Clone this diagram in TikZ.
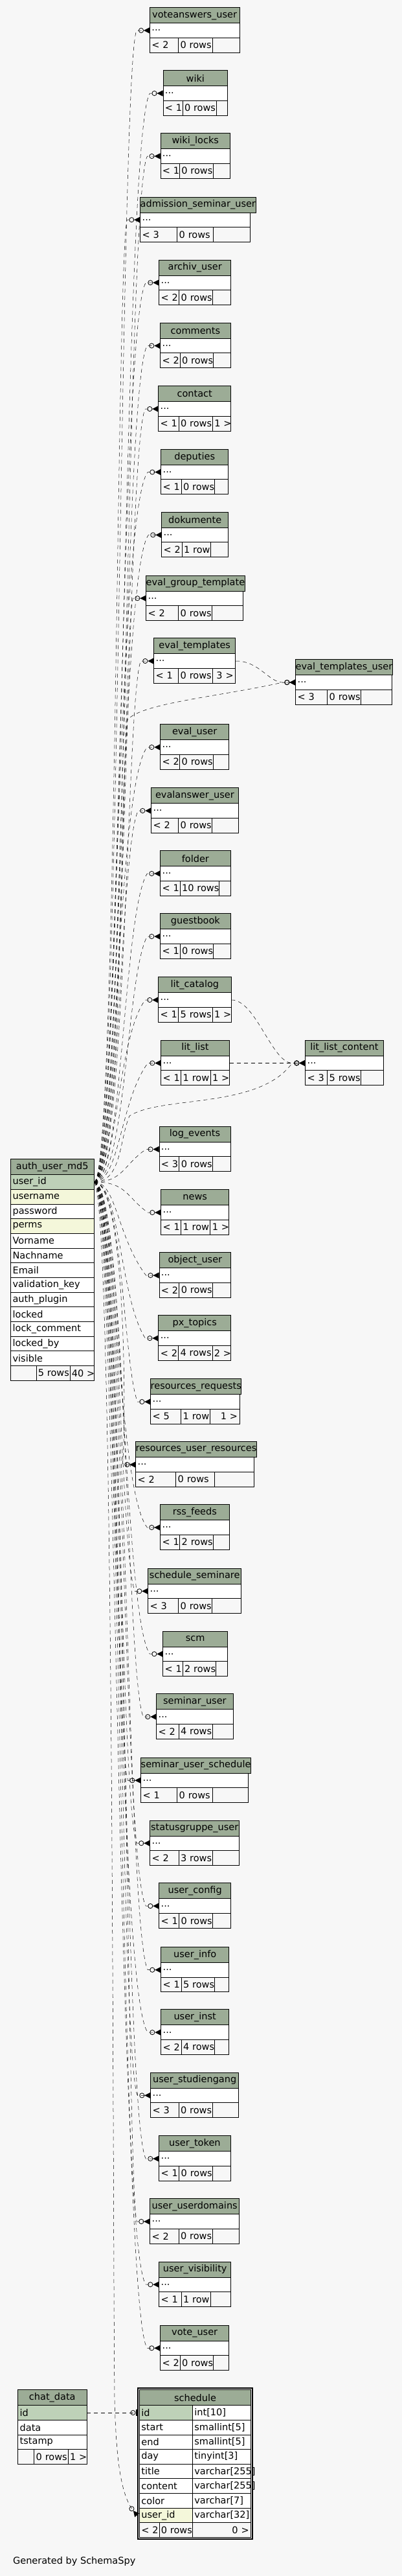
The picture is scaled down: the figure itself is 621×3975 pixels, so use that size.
\documentclass[tikz,border=0pt]{standalone}
\usepackage{fontspec}
\setmainfont{DejaVu Sans}
\usetikzlibrary{arrows.meta,fit}
\definecolor{paper}{HTML}{F7F7F7}
\definecolor{headgreen}{HTML}{9CAC96}
\definecolor{keygreen}{HTML}{BED1B8}
\definecolor{indexyellow}{HTML}{F4F7DA}
\tikzset{
  headbox/.style={draw=black,fill=headgreen,line width=.8pt,minimum height=24pt,inner sep=0pt,anchor=north west},
  colbox/.style={draw=black,fill=white,line width=.8pt,minimum height=22.6pt,inner xsep=3pt,inner ysep=0pt,align=left,anchor=north west},
  footbox/.style={colbox,fill=paper},
  rightfoot/.style={footbox,align=right},
  relation/.style={line width=.5pt,dash pattern=on 6pt off 5pt,
    -{Circle[open,length=8pt,width=8pt,line width=.8pt]Triangle[reversed,length=9pt,width=9pt]}},
  onerelation/.style={line width=.5pt,dash pattern=on 6pt off 5pt,
    -{Circle[open,length=8pt,width=8pt,line width=.8pt]Bar[width=10pt,line width=2.2pt]}},
}

\begin{document}
\begin{tikzpicture}[x=1pt,y=-1pt,font=\fontsize{14.5}{17}\selectfont]
\fill[paper] (0,0) rectangle (621,3975);
\useasboundingbox (0,0) rectangle (621,3975);

% auth_user_md5
\node[headbox,minimum width=128.3pt] (auth) at (16.2,1788.3) {auth\_user\_md5};
\foreach \col/\fillc [count=\i] in {user\_id/keygreen,username/indexyellow,password/white,perms/indexyellow,Vorname/white,Nachname/white,Email/white,validation\_key/white,auth\_plugin/white,locked/white,lock\_comment/white,locked\_by/white,visible/white}
  \node[colbox,fill=\fillc,text width=122.3pt] (auth-\i) at (16.2,{1812.3+(\i-1)*22.67}) {\col};
\node[footbox,text width=33.3pt] (auth-fa) at (16.2,2107) {};
\node[footbox,text width=46pt] (auth-fb) at (55.5,2107) {\mbox{5 rows}};
\node[rightfoot,text width=31pt] (auth-fc) at (107.5,2107) {\mbox{40 >}};

% referencing tables
\foreach \id/\tname/\lx/\rx/\ty/\da/\db/\fa/\fb/\fc/\edgeon [count=\k] in {
  voteanswers-user/voteanswers\_user/231/369.5/11.3/275.2/327.5/< 2/0 rows/{}/1,
  wiki/wiki/251.5/351.3/108.3/281.6/333.5/< 1/0 rows/{}/1,
  wiki-locks/wiki\_locks/247.5/355.2/205.3/277/329/< 1/0 rows/{}/1,
  admission-seminar-user/admission\_seminar\_user/216.3/385.7/303.5/273.3/329.3/< 3/0 rows/{}/1,
  archiv-user/archiv\_user/245.3/356.3/400.5/276.3/328.3/< 2/0 rows/{}/1,
  comments/comments/247.3/355.7/497.8/277.7/329.3/< 2/0 rows/{}/1,
  contact/contact/244.3/356.3/595.3/275.7/328/< 1/0 rows/1 >/1,
  deputies/deputies/248.3/352.3/692.8/279.7/331.3/< 1/0 rows/{}/1,
  dokumente/dokumente/249.3/352.3/789.8/280.7/325.3/< 2/1 row/{}/1,
  eval-group-template/eval\_group\_template/225.3/375.3/887.5/275.3/327.3/< 2/0 rows/{}/1,
  eval-templates/eval\_templates/237.3/363.3/984.3/275.3/327.7/< 1/0 rows/3 >/1,
  eval-user/eval\_user/247.3/353.3/1117.3/277.3/329.3/< 2/0 rows/{}/1,
  evalanswer-user/evalanswer\_user/233.3/367.7/1215.3/275.3/327.3/< 2/0 rows/{}/1,
  folder/folder/247.3/355.7/1312.3/277.7/337.7/< 1/10 rows/{}/1,
  guestbook/guestbook/247.3/355.7/1409.3/277.7/329.3/< 1/0 rows/{}/1,
  lit-catalog/lit\_catalog/244.3/356.7/1507.3/275.3/327.7/< 1/5 rows/1 >/1,
  lit-list/lit\_list/248.3/353.7/1604.7/279.3/324.7/< 1/1 row/1 >/1,
  log-events/log\_events/245.5/355.6/1737.7/276.4/328.3/< 3/0 rows/{}/1,
  news/news/248.3/353.3/1835.3/279.2/324.4/< 1/1 row/1 >/1,
  object-user/object\_user/245.5/356.4/1932.3/276.4/328.3/< 2/0 rows/{}/1,
  px-topics/px\_topics/244.4/356.4/2029.3/275.2/327.5/< 2/4 rows/2 >/1,
  resources-requests/resources\_requests/232.3/369.7/2127.3/279.3/324.3/< 5/1 row/1 >/1,
  resources-user-resources/resources\_user\_resources/209.3/391.7/2224.3/271.3/331.3/< 2/0 rows/{}/1,
  rss-feeds/rss\_feeds/247.3/353.7/2321.3/277.3/329.3/< 1/2 rows/{}/1,
  schedule-seminare/schedule\_seminare/228.3/372.3/2419.6/275.3/327.3/< 3/0 rows/{}/1,
  scm/scm/251.3/351.3/2516.5/281.7/333/< 1/2 rows/{}/1,
  seminar-user/seminar\_user/241.3/359.7/2613.4/275.7/327.7/< 2/4 rows/{}/1,
  seminar-user-schedule/seminar\_user\_schedule/217.3/383.3/2711.6/273.3/328.3/< 1/0 rows/{}/1,
  statusgruppe-user/statusgruppe\_user/231.3/369.3/2808.5/275.7/327.7/< 2/3 rows/{}/1,
  user-config/user\_config/245.3/356.3/2905.4/276.3/328.3/< 1/0 rows/{}/1,
  user-info/user\_info/248.3/353.3/3004/279.7/331.3/< 1/5 rows/{}/1,
  user-inst/user\_inst/248.3/353.3/3100.4/279.7/331.3/< 2/4 rows/{}/1,
  user-studiengang/user\_studiengang/232.3/368.3/3197.7/275.7/327.7/< 3/0 rows/{}/1,
  user-token/user\_token/245.3/355.7/3295.3/276.3/328.3/< 1/0 rows/{}/1,
  user-userdomains/user\_userdomains/231.3/369.3/3392.3/275.7/327.7/< 2/0 rows/{}/1,
  user-visibility/user\_visibility/245.3/356.3/3489.5/279.7/324.7/< 1/1 row/{}/1,
  vote-user/vote\_user/247.3/353.3/3587.6/277.7/329.3/< 2/0 rows/{}/1,
  eval-templates-user/eval\_templates\_user/456.3/605.3/1017.3/505.3/557.3/< 3/0 rows/{}/0,
  lit-list-content/lit\_list\_content/471.3/591.7/1604.7/505.3/557.3/< 3/5 rows/{}/0}{
  \pgfmathsetmacro\wbox{\rx-\lx}
  \pgfmathsetmacro\wrow{\rx-\lx-6}
  \pgfmathsetmacro\wfa{\da-\lx-6}
  \pgfmathsetmacro\wfb{\db-\da-6}
  \pgfmathsetmacro\wfc{\rx-\db-6}
  \pgfmathsetmacro\yrow{\ty+24}
  \pgfmathsetmacro\yfoot{\ty+46.6}
  \node[headbox,minimum width=\wbox pt] (\id) at (\lx,\ty) {\tname};
  \node[colbox,text width=\wrow pt] (\id-row) at (\lx,\yrow) {...};
  \node[footbox,text width=\wfa pt] (\id-fa) at (\lx,\yfoot) {\mbox{\fa}};
  \node[footbox,text width=\wfb pt] (\id-fb) at (\da,\yfoot) {\mbox{\fb}};
  \node[rightfoot,text width=\wfc pt] (\id-fc) at (\db,\yfoot) {\mbox{\fc}};
  \ifnum\edgeon=1
    \pgfmathsetmacro\cx{180+mod(\k,4)*5}
    \pgfmathsetmacro\cy{\ty+35+max(-60,min(60,0.5*(1788.6-\ty)))}
    \draw[relation] (auth-1.east) .. controls (\cx,1823.6) and (\cx,\cy) .. ([xshift=-20pt]\id-row.west) -- (\id-row.west);
  \fi
}

% chat_data
\node[headbox,minimum width=106.2pt] (chat) at (27.3,3687.3) {chat\_data};
\node[colbox,fill=keygreen,text width=100.2pt] (chat-1) at (27.3,3711.3) {id};
\node[colbox,text width=100.2pt] (chat-2) at (27.3,3733.9) {data};
\node[colbox,text width=100.2pt] (chat-3) at (27.3,3756.5) {tstamp};
\node[footbox,text width=19pt] (chat-fa) at (27.3,3779.1) {};
\node[footbox,text width=46.3pt] (chat-fb) at (52.3,3779.1) {\mbox{0 rows}};
\node[rightfoot,text width=22.9pt] (chat-fc) at (104.6,3779.1) {\mbox{1 >}};

% schedule
\node[headbox,minimum width=172.3pt] (sched) at (215,3687.3) {schedule};
\foreach \col/\type/\fillc [count=\i] in {id/int[10]/keygreen,start/smallint[5]/white,end/smallint[5]/white,day/tinyint[3]/white,title/varchar[255]/white,content/varchar[255]/white,color/varchar[7]/white,user\_id/varchar[32]/indexyellow}{
  \node[colbox,fill=\fillc,text width=76pt] (sched-name-\i) at (215,{3711.3+(\i-1)*22.6}) {\col};
  \node[colbox,text width=84.3pt] (sched-type-\i) at (297,{3711.3+(\i-1)*22.6}) {\mbox{\type}};
}
\node[footbox,text width=24.5pt] (sched-fa) at (215,3892.1) {\mbox{< 2}};
\node[footbox,text width=45.5pt] (sched-fb) at (245.5,3892.1) {\mbox{0 rows}};
\node[rightfoot,text width=84.3pt] (sched-fc) at (297,3892.1) {\mbox{0 >}};
\node[draw,line width=2.2pt,inner sep=2.2pt,fit=(sched)(sched-fc)] (schedframe) {};

% relations off the left column
\draw[relation] (eval-templates-row.east) .. controls (400,1019.6) and (415,1052.6) .. ([xshift=-20pt]eval-templates-user-row.west) -- (eval-templates-user-row.west);
\draw[relation] (auth-1.east) .. controls (188,1823.6) and (186,1250) .. (196,1112) .. controls (215,1085) and (340,1075) .. ([xshift=-20pt]eval-templates-user-row.west) -- (eval-templates-user-row.west);
\draw[relation] (lit-catalog-row.east) .. controls (395,1542.6) and (420,1639.9) .. ([xshift=-20pt]lit-list-content-row.west) -- (lit-list-content-row.west);
\draw[relation] (lit-list-row.east) -- (lit-list-content-row.west);
\draw[relation] (auth-1.east) .. controls (188,1823.6) and (184,1760) .. (200,1722) .. controls (250,1690) and (400,1712) .. ([xshift=-20pt]lit-list-content-row.west) -- (lit-list-content-row.west);
\draw[onerelation] (chat-1.east) -- (chat-1.east -| schedframe.west);
\draw[relation] (auth-1.east) .. controls (176,1850) and (174,3400) .. (177,3700) .. controls (179,3790) and (186,3850) .. (schedframe.west |- sched-name-8.west);

\node[anchor=west] (credit) at (16.6,3952) {Generated by SchemaSpy};
\end{tikzpicture}
\end{document}
